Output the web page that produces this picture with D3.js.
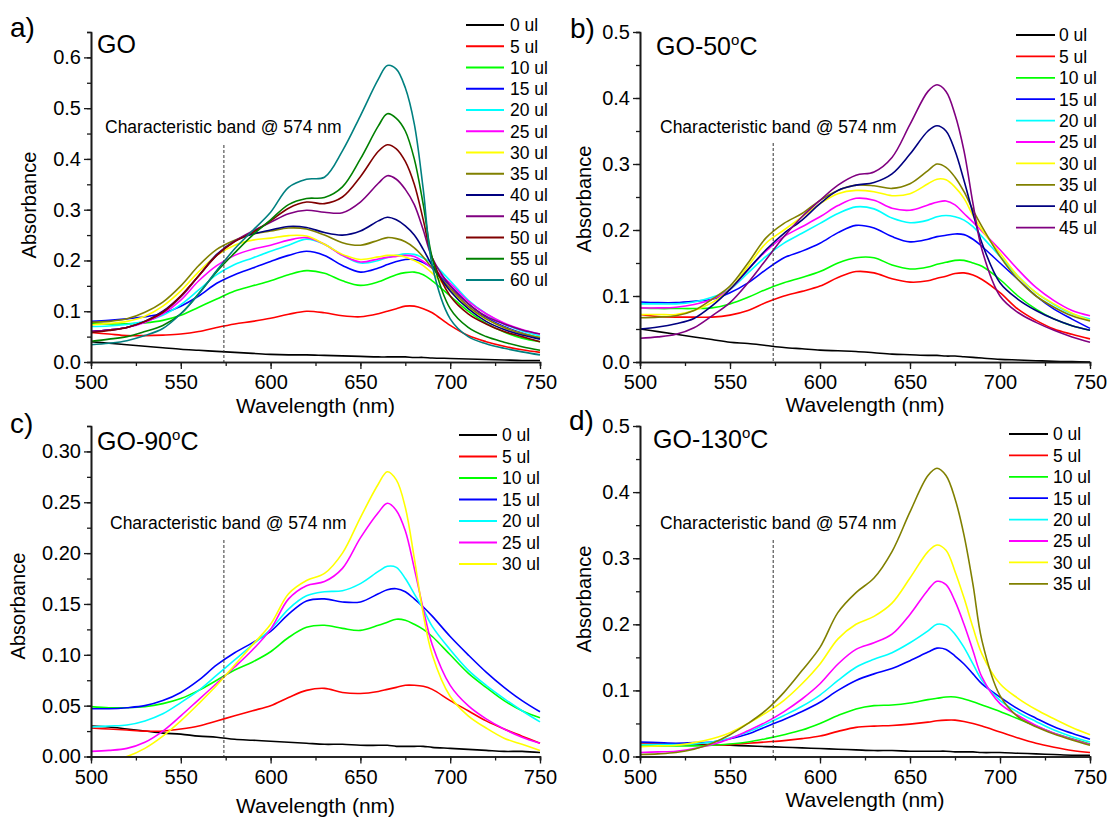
<!DOCTYPE html>
<html>
<head>
<meta charset="utf-8">
<script src="https://cdn.jsdelivr.net/npm/d3@7/dist/d3.min.js"></script>
<style>
  body { margin: 0; background: #fff; }
  svg { display: block; }
  text { font-family: "Liberation Sans", Arial, Helvetica, sans-serif; fill: #000; }
</style>
</head>
<body>
<svg id="fig" width="1109" height="820"></svg>
<script>
// ---- shared axis data ----
const wavelengths = [500,510,520,530,540,550,560,570,580,590,600,610,620,630,640,650,660,665,670,675,680,685,690,700,710,720,730,740,750];
const xTicks = [500,550,600,650,700,750];
const seriesColors = ['#000000','#ff0000','#00ff00','#0000ff','#00ffff','#ff00ff','#ffff00','#808000','#000080','#800080','#800000','#008000','#008080'];
const bandWavelength = 574;
const bandNote = 'Characteristic band @ 574 nm';

// ---- a) GO ----
const volumesGO = [0,5,10,15,20,25,30,35,40,45,50,55,60];
const yTicksGO = [0,0.1,0.2,0.3,0.4,0.5,0.6];
const absGO = [
  [0.040,0.037,0.034,0.031,0.028,0.025,0.023,0.021,0.019,0.017,0.015,0.014,0.014,0.013,0.012,0.011,0.010,0.010,0.010,0.010,0.009,0.009,0.008,0.007,0.006,0.005,0.004,0.003,0.003],
  [0.058,0.055,0.052,0.052,0.053,0.055,0.060,0.068,0.075,0.080,0.086,0.094,0.100,0.097,0.091,0.089,0.095,0.100,0.105,0.110,0.110,0.105,0.097,0.072,0.052,0.040,0.031,0.024,0.019],
  [0.075,0.075,0.075,0.077,0.082,0.092,0.108,0.124,0.140,0.150,0.160,0.172,0.180,0.175,0.160,0.151,0.158,0.165,0.172,0.176,0.177,0.172,0.160,0.130,0.100,0.076,0.059,0.047,0.040],
  [0.080,0.082,0.085,0.089,0.096,0.110,0.130,0.155,0.172,0.185,0.198,0.210,0.218,0.210,0.190,0.177,0.185,0.192,0.198,0.202,0.202,0.196,0.185,0.150,0.115,0.088,0.070,0.057,0.047],
  [0.070,0.071,0.074,0.080,0.092,0.113,0.142,0.172,0.192,0.205,0.218,0.230,0.242,0.232,0.210,0.195,0.200,0.206,0.210,0.213,0.212,0.205,0.195,0.160,0.122,0.095,0.075,0.061,0.051],
  [0.060,0.063,0.068,0.078,0.095,0.122,0.160,0.190,0.210,0.222,0.230,0.240,0.245,0.232,0.210,0.197,0.203,0.206,0.208,0.210,0.208,0.198,0.185,0.155,0.120,0.095,0.077,0.064,0.055],
  [0.073,0.076,0.080,0.090,0.110,0.140,0.178,0.210,0.230,0.240,0.244,0.249,0.248,0.232,0.212,0.202,0.207,0.210,0.210,0.207,0.200,0.190,0.175,0.140,0.108,0.085,0.068,0.056,0.048],
  [0.078,0.080,0.085,0.098,0.118,0.150,0.190,0.222,0.240,0.252,0.258,0.264,0.262,0.250,0.235,0.230,0.240,0.245,0.243,0.237,0.225,0.207,0.185,0.145,0.110,0.085,0.068,0.056,0.048],
  [0.060,0.063,0.068,0.080,0.100,0.130,0.170,0.212,0.238,0.252,0.260,0.267,0.265,0.255,0.250,0.258,0.278,0.285,0.280,0.268,0.250,0.222,0.190,0.140,0.105,0.080,0.064,0.053,0.045],
  [0.060,0.063,0.068,0.080,0.098,0.128,0.170,0.210,0.238,0.258,0.275,0.292,0.299,0.295,0.294,0.315,0.352,0.367,0.360,0.340,0.310,0.260,0.205,0.150,0.115,0.090,0.075,0.063,0.055],
  [0.058,0.062,0.068,0.080,0.098,0.130,0.170,0.210,0.237,0.255,0.278,0.303,0.315,0.312,0.325,0.365,0.415,0.428,0.420,0.395,0.350,0.280,0.205,0.130,0.095,0.075,0.060,0.050,0.040],
  [0.041,0.045,0.050,0.060,0.072,0.095,0.135,0.178,0.215,0.250,0.280,0.310,0.322,0.324,0.345,0.400,0.465,0.489,0.480,0.455,0.400,0.310,0.205,0.105,0.068,0.050,0.039,0.030,0.023],
  [0.034,0.037,0.042,0.052,0.066,0.095,0.134,0.180,0.223,0.259,0.295,0.344,0.360,0.364,0.416,0.485,0.557,0.584,0.577,0.540,0.469,0.340,0.190,0.085,0.050,0.036,0.027,0.020,0.014]
];

// ---- b) GO-50°C ----
const volumes50 = [0,5,10,15,20,25,30,35,40,45];
const yTicks50 = [0,0.1,0.2,0.3,0.4,0.5];
const abs50 = [
  [0.050,0.046,0.042,0.038,0.034,0.030,0.028,0.025,0.022,0.020,0.018,0.017,0.016,0.014,0.012,0.011,0.010,0.010,0.009,0.009,0.008,0.007,0.006,0.004,0.003,0.002,0.001,0.0005,0.000],
  [0.072,0.069,0.068,0.068,0.068,0.071,0.078,0.090,0.100,0.107,0.115,0.128,0.137,0.135,0.126,0.121,0.123,0.127,0.130,0.134,0.135,0.132,0.125,0.105,0.080,0.063,0.050,0.042,0.035],
  [0.082,0.081,0.081,0.081,0.082,0.088,0.098,0.110,0.120,0.128,0.137,0.150,0.158,0.158,0.147,0.141,0.144,0.148,0.151,0.154,0.154,0.150,0.145,0.125,0.100,0.080,0.065,0.055,0.048],
  [0.091,0.090,0.090,0.092,0.095,0.105,0.120,0.140,0.158,0.168,0.180,0.196,0.207,0.203,0.190,0.182,0.186,0.190,0.192,0.194,0.193,0.186,0.175,0.150,0.125,0.100,0.080,0.065,0.051],
  [0.088,0.088,0.088,0.091,0.098,0.110,0.135,0.160,0.180,0.195,0.210,0.225,0.235,0.232,0.218,0.211,0.215,0.220,0.222,0.220,0.215,0.205,0.190,0.160,0.130,0.105,0.087,0.073,0.065],
  [0.082,0.082,0.083,0.087,0.095,0.110,0.140,0.168,0.190,0.205,0.220,0.237,0.248,0.245,0.233,0.230,0.238,0.242,0.244,0.238,0.225,0.212,0.198,0.170,0.140,0.113,0.093,0.078,0.070],
  [0.072,0.072,0.072,0.078,0.090,0.110,0.145,0.180,0.200,0.220,0.240,0.255,0.260,0.258,0.252,0.255,0.270,0.277,0.276,0.265,0.248,0.222,0.200,0.165,0.130,0.105,0.088,0.074,0.063],
  [0.067,0.068,0.070,0.078,0.095,0.115,0.150,0.188,0.210,0.225,0.245,0.260,0.268,0.267,0.263,0.270,0.290,0.300,0.295,0.280,0.258,0.230,0.205,0.160,0.125,0.100,0.083,0.070,0.062],
  [0.050,0.053,0.058,0.066,0.085,0.110,0.140,0.170,0.195,0.215,0.240,0.260,0.268,0.272,0.285,0.315,0.350,0.358,0.350,0.320,0.275,0.225,0.180,0.120,0.095,0.078,0.065,0.055,0.048],
  [0.036,0.038,0.042,0.052,0.070,0.090,0.120,0.155,0.190,0.220,0.245,0.268,0.283,0.288,0.310,0.360,0.410,0.420,0.410,0.375,0.320,0.240,0.170,0.100,0.075,0.060,0.048,0.038,0.030]
];

// ---- c) GO-90°C ----
const volumes90 = [0,5,10,15,20,25,30];
const yTicks90 = [0,0.05,0.10,0.15,0.20,0.25,0.30];
const abs90 = [
  [0.030,0.029,0.027,0.025,0.023,0.022,0.020,0.019,0.017,0.016,0.015,0.014,0.013,0.012,0.012,0.011,0.011,0.011,0.010,0.010,0.010,0.010,0.009,0.008,0.007,0.006,0.005,0.005,0.004],
  [0.028,0.027,0.026,0.025,0.025,0.027,0.030,0.035,0.040,0.045,0.050,0.058,0.065,0.067,0.063,0.062,0.064,0.066,0.068,0.070,0.070,0.069,0.066,0.055,0.045,0.035,0.027,0.020,0.013],
  [0.049,0.048,0.048,0.049,0.052,0.057,0.065,0.075,0.085,0.093,0.103,0.117,0.127,0.129,0.126,0.124,0.129,0.132,0.135,0.134,0.130,0.125,0.118,0.100,0.082,0.068,0.055,0.045,0.038],
  [0.047,0.047,0.048,0.050,0.055,0.063,0.075,0.090,0.102,0.112,0.123,0.140,0.153,0.155,0.152,0.152,0.160,0.164,0.165,0.162,0.155,0.147,0.138,0.118,0.100,0.083,0.068,0.055,0.044],
  [0.029,0.030,0.031,0.035,0.042,0.053,0.065,0.080,0.095,0.110,0.125,0.145,0.158,0.162,0.163,0.170,0.182,0.187,0.186,0.175,0.160,0.145,0.128,0.105,0.085,0.070,0.057,0.045,0.034],
  [0.005,0.006,0.008,0.014,0.025,0.040,0.056,0.072,0.088,0.105,0.125,0.155,0.168,0.172,0.185,0.215,0.240,0.249,0.242,0.222,0.185,0.145,0.110,0.070,0.050,0.037,0.027,0.019,0.013],
  [-0.008,-0.004,0.000,0.008,0.020,0.035,0.052,0.070,0.090,0.110,0.130,0.160,0.173,0.180,0.200,0.235,0.268,0.280,0.272,0.245,0.195,0.140,0.100,0.059,0.040,0.028,0.018,0.012,0.006]
];

// ---- d) GO-130°C ----
const volumes130 = [0,5,10,15,20,25,30,35];
const yTicks130 = [0,0.1,0.2,0.3,0.4,0.5];
const abs130 = [
  [0.020,0.019,0.019,0.018,0.018,0.017,0.016,0.015,0.014,0.013,0.012,0.011,0.010,0.009,0.009,0.008,0.008,0.008,0.008,0.007,0.007,0.007,0.006,0.006,0.005,0.004,0.003,0.002,0.002],
  [0.020,0.019,0.018,0.017,0.017,0.018,0.020,0.022,0.024,0.027,0.031,0.038,0.044,0.046,0.047,0.049,0.052,0.054,0.055,0.055,0.053,0.050,0.046,0.037,0.028,0.020,0.014,0.009,0.006],
  [0.016,0.016,0.016,0.016,0.017,0.019,0.022,0.027,0.033,0.040,0.050,0.062,0.072,0.077,0.078,0.081,0.086,0.088,0.090,0.090,0.087,0.083,0.078,0.068,0.057,0.046,0.035,0.027,0.019],
  [0.022,0.021,0.020,0.021,0.022,0.027,0.034,0.045,0.056,0.068,0.082,0.100,0.115,0.125,0.133,0.145,0.158,0.164,0.162,0.152,0.140,0.125,0.110,0.090,0.072,0.058,0.045,0.035,0.026],
  [0.018,0.018,0.018,0.019,0.022,0.028,0.037,0.049,0.062,0.076,0.093,0.115,0.135,0.147,0.157,0.172,0.190,0.200,0.198,0.185,0.165,0.140,0.115,0.085,0.067,0.053,0.040,0.030,0.022],
  [0.006,0.007,0.008,0.012,0.018,0.027,0.039,0.052,0.068,0.087,0.110,0.140,0.162,0.172,0.185,0.215,0.252,0.265,0.260,0.235,0.200,0.160,0.120,0.080,0.062,0.047,0.035,0.026,0.018],
  [0.015,0.016,0.017,0.021,0.027,0.036,0.050,0.066,0.085,0.110,0.140,0.178,0.200,0.212,0.232,0.270,0.310,0.320,0.312,0.280,0.240,0.195,0.155,0.110,0.088,0.071,0.057,0.044,0.033],
  [0.003,0.004,0.006,0.011,0.020,0.033,0.050,0.070,0.097,0.130,0.165,0.218,0.248,0.270,0.310,0.370,0.425,0.436,0.425,0.390,0.335,0.260,0.175,0.092,0.060,0.045,0.034,0.025,0.017]
];

// ---- panel layout ----
const panels = [
  { tag: 'a)', title: ['GO'], vols: volumesGO, data: absGO, yTicks: yTicksGO, yMax: 0.65, yMinor: 0.05, fmt: '.1f',
    box: { l: 91, r: 540, t: 32, b: 362 }, tagAt: [10, 37], titleAt: [97, 53], noteAt: [105, 133], dashTop: 145,
    legend: { x1: 466, x2: 504, tx: 510, y0: 25, dy: 21.25 }, yTitleAt: [36, 205], xTitleY: 413 },
  { tag: 'b)', title: ['GO-50', 'o', 'C'], vols: volumes50, data: abs50, yTicks: yTicks50, yMax: 0.5, yMinor: 0.05, fmt: '.1f',
    box: { l: 640, r: 1090, t: 32, b: 362 }, tagAt: [570, 38], titleAt: [656, 55], noteAt: [660, 133], dashTop: 143,
    legend: { x1: 1016, x2: 1055, tx: 1059, y0: 35, dy: 21.4 }, yTitleAt: [591, 199], xTitleY: 412 },
  { tag: 'c)', title: ['GO-90', 'o', 'C'], vols: volumes90, data: abs90, yTicks: yTicks90, yMax: 0.325, yMinor: 0.025, fmt: '.2f',
    box: { l: 91, r: 540, t: 426, b: 756.5 }, tagAt: [10, 433], titleAt: [97, 450], noteAt: [110, 529], dashTop: 540,
    legend: { x1: 459, x2: 497, tx: 502, y0: 435, dy: 21.5 }, yTitleAt: [25, 606], xTitleY: 813 },
  { tag: 'd)', title: ['GO-130', 'o', 'C'], vols: volumes130, data: abs130, yTicks: yTicks130, yMax: 0.5, yMinor: 0.05, fmt: '.1f',
    box: { l: 640, r: 1090, t: 426, b: 756.5 }, tagAt: [569, 430], titleAt: [653, 448], noteAt: [660, 529], dashTop: 540,
    legend: { x1: 1009, x2: 1048, tx: 1053, y0: 434, dy: 21.4 }, yTitleAt: [591, 599], xTitleY: 807 }
];

const svg = d3.select('#fig');
const axisColor = '#1a1a1a';

panels.forEach((p, pi) => {
  const g = svg.append('g');
  const x = d3.scaleLinear().domain([500, 750]).range([p.box.l, p.box.r]);
  const y = d3.scaleLinear().domain([0, p.yMax]).range([p.box.b, p.box.t]);

  // clip region for the spectra
  const clipId = 'clip' + pi;
  svg.append('clipPath').attr('id', clipId).append('rect')
    .attr('x', p.box.l).attr('y', p.box.t - 2)
    .attr('width', p.box.r - p.box.l + 2).attr('height', p.box.b - p.box.t + 2);

  // spectra
  const line = d3.line()
    .x((d, i) => x(wavelengths[i]))
    .y(d => y(d))
    .curve(d3.curveCatmullRom.alpha(0.5));
  g.append('g').attr('clip-path', `url(#${clipId})`)
    .selectAll('path').data(p.data).join('path')
    .attr('d', line)
    .attr('fill', 'none')
    .attr('stroke', (d, i) => seriesColors[i])
    .attr('stroke-width', 1.6)
    .attr('stroke-linejoin', 'round');

  // dashed marker at the characteristic band
  g.append('line')
    .attr('x1', x(bandWavelength)).attr('x2', x(bandWavelength))
    .attr('y1', p.dashTop).attr('y2', p.box.b)
    .attr('stroke', '#333').attr('stroke-width', 1)
    .attr('stroke-dasharray', '3,2');
  g.append('text')
    .attr('x', p.noteAt[0]).attr('y', p.noteAt[1])
    .attr('font-size', 17.5)
    .text(bandNote);

  // minor ticks
  const xMinor = d3.range(500, 751, 25);
  const yMinor = d3.range(0, p.yMax + 1e-9, p.yMinor);
  const xMinorAxis = d3.axisBottom(x).tickValues(xMinor).tickSize(4).tickFormat('');
  const yMinorAxis = d3.axisLeft(y).tickValues(yMinor).tickSize(4).tickFormat('');
  g.append('g').attr('transform', `translate(0,${p.box.b})`).call(xMinorAxis);
  g.append('g').attr('transform', `translate(${p.box.l},0)`).call(yMinorAxis);

  // major axes
  const xAxis = d3.axisBottom(x).tickValues(xTicks).tickSize(7).tickSizeOuter(0).tickPadding(6);
  const yAxis = d3.axisLeft(y).tickValues(p.yTicks).tickSize(7).tickSizeOuter(0).tickPadding(3)
    .tickFormat(d3.format(p.fmt));
  g.append('g').attr('transform', `translate(0,${p.box.b})`).call(xAxis);
  g.append('g').attr('transform', `translate(${p.box.l},0)`).call(yAxis);

  g.selectAll('.domain').attr('stroke', axisColor).attr('stroke-width', 1.6);
  g.selectAll('.tick line').attr('stroke', axisColor).attr('stroke-width', 1.3);
  g.selectAll('.tick text').attr('font-size', 20).attr('fill', '#000')
    .attr('font-family', '"Liberation Sans", Arial, sans-serif');

  // axis titles
  g.append('text')
    .attr('transform', `translate(${p.yTitleAt[0]},${p.yTitleAt[1]}) rotate(-90)`)
    .attr('text-anchor', 'middle').attr('font-size', 20)
    .text('Absorbance');
  g.append('text')
    .attr('x', (p.box.l + p.box.r) / 2).attr('y', p.xTitleY)
    .attr('text-anchor', 'middle').attr('font-size', 21)
    .text('Wavelength (nm)');

  // panel tag and sample name
  g.append('text').attr('x', p.tagAt[0]).attr('y', p.tagAt[1])
    .attr('font-size', 28).text(p.tag);
  const t = g.append('text').attr('x', p.titleAt[0]).attr('y', p.titleAt[1]).attr('font-size', 25);
  t.append('tspan').text(p.title[0]);
  if (p.title.length > 1) {
    t.append('tspan').attr('font-size', 15).attr('dy', -10).text(p.title[1]);
    t.append('tspan').attr('dy', 10).text(p.title[2]);
  }

  // legend
  const lg = g.append('g');
  const rows = lg.selectAll('g').data(p.vols).join('g')
    .attr('transform', (d, i) => `translate(0,${p.legend.y0 + i * p.legend.dy})`);
  rows.append('line')
    .attr('x1', p.legend.x1).attr('x2', p.legend.x2)
    .attr('stroke', (d, i) => seriesColors[i]).attr('stroke-width', 1.8);
  rows.append('text')
    .attr('x', p.legend.tx).attr('dy', '0.36em')
    .attr('font-size', 17.5)
    .text(d => `${d} ul`);
});
</script>
</body>
</html>
